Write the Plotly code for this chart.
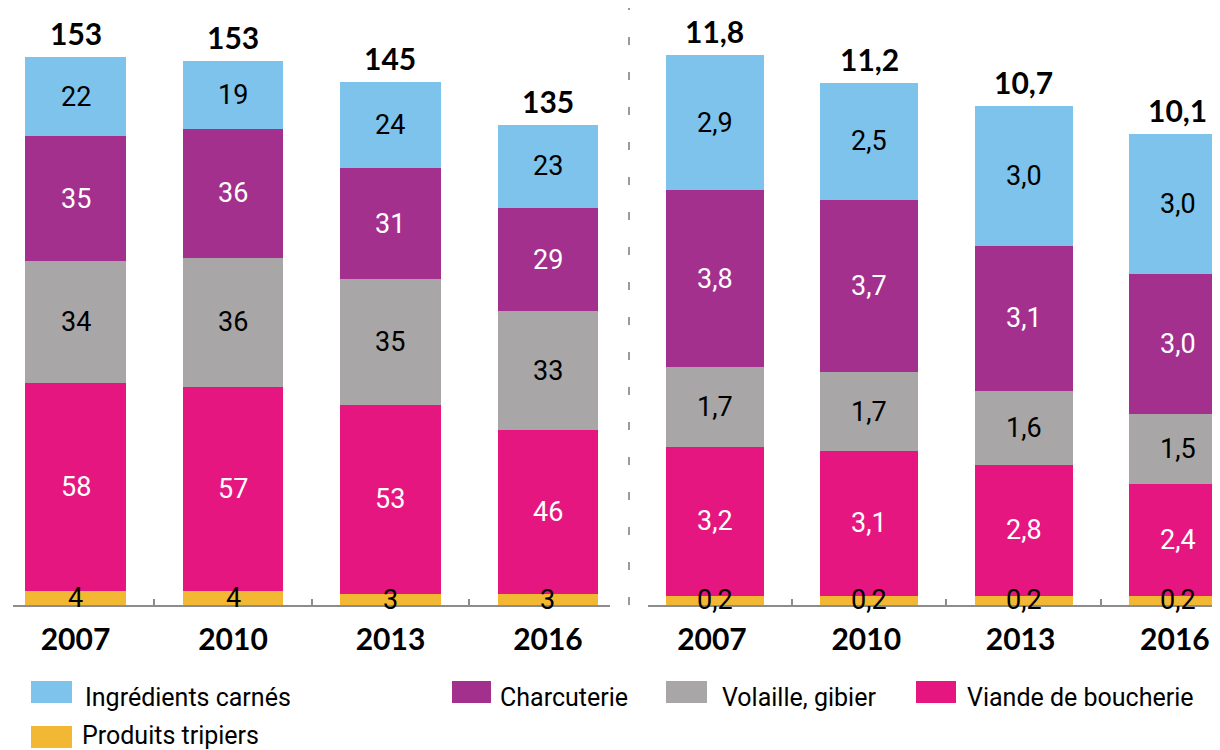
import plotly.graph_objects as go

years = ["2007", "2010", "2013", "2016"]
series_names = ["Produits tripiers", "Viande de boucherie", "Volaille, gibier", "Charcuterie", "Ingrédients carnés"]
colors = ["#f2b833", "#e5167f", "#a8a6a6", "#a3308d", "#7dc3eb"]
label_colors = ["black", "white", "black", "white", "black"]

# left panel (bottom to top)
left_tripiers = [4, 4, 3, 3]
left_boucherie = [58, 57, 53, 46]
left_volaille = [34, 36, 35, 33]
left_charcuterie = [35, 36, 31, 29]
left_ingredients = [22, 19, 24, 23]
left_totals = [153, 153, 145, 135]

# right panel (bottom to top)
right_tripiers = [0.2, 0.2, 0.2, 0.2]
right_boucherie = [3.2, 3.1, 2.8, 2.4]
right_volaille = [1.7, 1.7, 1.6, 1.5]
right_charcuterie = [3.8, 3.7, 3.1, 3.0]
right_ingredients = [2.9, 2.5, 3.0, 3.0]
right_totals = [11.8, 11.2, 10.7, 10.1]

left_series = [left_tripiers, left_boucherie, left_volaille, left_charcuterie, left_ingredients]
right_series = [right_tripiers, right_boucherie, right_volaille, right_charcuterie, right_ingredients]

# page has an 8px body margin: work in screen pixels and convert
OFF = 8
W, H = 1220 - OFF, 750 - OFF


def px(sx):
    return (sx - OFF) / W


def py(sy):
    return (H - (sy - OFF)) / H


BASE = py(605)
SEG_FONT = "Roboto, Liberation Sans, sans-serif"
BOLD_FONT = "Lato, Open Sans, Liberation Sans, sans-serif"


def fmt_left(v):
    return f"{v:d}"


def fmt_right(v):
    return f"{v:.1f}".replace(".", ",")


fig = go.Figure()
annotations = []

for series, totals, fmt, xa, ya, width in [
    (left_series, left_totals, fmt_left, "x", "y", 0.64),
    (right_series, right_totals, fmt_right, "x2", "y2", 0.635),
]:
    cum = [0.0] * len(years)
    for name, vals, col, lc in zip(series_names, series, colors, label_colors):
        fig.add_trace(go.Bar(
            x=years, y=vals, name=name, marker=dict(color=col, line=dict(width=0)),
            width=width, xaxis=xa, yaxis=ya, showlegend=False, hoverinfo="skip",
        ))
        for i, v in enumerate(vals):
            annotations.append(dict(
                x=i, y=cum[i] + v / 2, xref=xa, yref=ya, text=fmt(v), showarrow=False,
                font=dict(family=SEG_FONT, size=27, color=lc), yanchor="middle",
            ))
            cum[i] += v
    for i in range(len(years)):
        annotations.append(dict(
            x=i, y=cum[i], xref=xa, yref=ya, text=f"<b>{fmt(totals[i])}</b>", showarrow=False,
            font=dict(family=BOLD_FONT, size=30, color="black"), yanchor="middle", yshift=24,
        ))

# legend (manual)
legend_items = [
    ("Ingrédients carnés", "#7dc3eb", 31, 72, 83, 692, 697),
    ("Charcuterie", "#a3308d", 452, 491, 498, 692, 697),
    ("Volaille, gibier", "#a8a6a6", 666, 707, 720, 692, 697),
    ("Viande de boucherie", "#e5167f", 916, 956, 965, 692, 697),
    ("Produits tripiers", "#f2b833", 31, 72, 80, 737, 735),
]
shapes = []
for text, col, sx0, sx1, tx, sy, ty in legend_items:
    shapes.append(dict(type="rect", xref="paper", yref="paper",
                       x0=px(sx0), x1=px(sx1), y0=py(sy + 11), y1=py(sy - 11),
                       fillcolor=col, line=dict(width=0)))
    annotations.append(dict(x=px(tx), y=py(ty), xref="paper", yref="paper", text=text,
                            showarrow=False, xanchor="left", yanchor="middle",
                            font=dict(family=SEG_FONT, size=25, color="black")))

# dashed separator
shapes.append(dict(type="line", xref="paper", yref="paper", x0=px(629), x1=px(629),
                   y0=BASE, y1=1, line=dict(color="#9a9a9a", width=2, dash="8px,27px")))

axis_common = dict(
    type="category", showgrid=False, zeroline=False, showline=True, linecolor="#8c8c8c", linewidth=2,
    ticks="inside", ticklen=6, tickwidth=2, tickcolor="#8c8c8c", tickson="boundaries",
    tickfont=dict(family=BOLD_FONT, size=30, color="black"), ticklabelstandoff=7,
    tickprefix="<b>", ticksuffix="</b>", fixedrange=True,
)

fig.update_layout(
    width=W, height=H, barmode="stack", bargap=0,
    paper_bgcolor="white", plot_bgcolor="white",
    margin=dict(l=0, r=0, t=0, b=0, pad=0),
    xaxis=dict(domain=[px(13), px(610)], range=[-0.397, 3.394], anchor="y", **axis_common),
    xaxis2=dict(domain=[px(648), 1.0], range=[-0.434, 3.273], anchor="y2",
                ticklabelshift=-3, **axis_common),
    yaxis=dict(domain=[BASE, 1], range=[0, (605 - OFF) / 3.58], visible=False, fixedrange=True),
    yaxis2=dict(domain=[BASE, 1], range=[0, (605 - OFF) / 46.6], visible=False, fixedrange=True, anchor="x2"),
    annotations=annotations, shapes=shapes, showlegend=False,
)

fig.write_html("out.html")
